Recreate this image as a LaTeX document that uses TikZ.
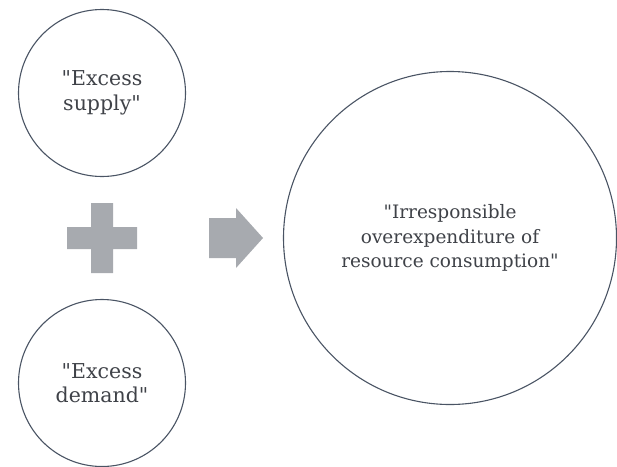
\documentclass[tikz,border=0pt]{standalone}
\usepackage{fontspec}
\setmainfont{DejaVu Serif}[Ligatures=TeXOff]
\usetikzlibrary{positioning}
\definecolor{rimgray}{HTML}{4A5464}
\definecolor{textgray}{HTML}{3F4248}
\definecolor{signgray}{HTML}{A7AAAF}
\tikzset{
  every node/.style={ % text in all circles
    text=textgray,
    font=\fontsize{20.5}{24.5}\selectfont,
    align=center},
  bubble/.style={ % the small circles
    circle,
    draw=rimgray,
    line width=1.1pt,
    minimum size=167pt,
    inner sep=0pt,
    execute at begin node={\rule{0pt}{23pt}}}, % pushes the text a bit lower
  bigbubble/.style={ % the large circle on the right
    bubble,
    font=\fontsize{18.5}{24.5}\selectfont,
    minimum size=333pt},
  sign/.style={ % plus and arrow
    fill=signgray,
    draw=none}}

\begin{document}
\begin{tikzpicture}[x=1pt,y=-1pt]
  \useasboundingbox (0,0) rectangle (617,466);
  \node[bubble] (supply) at (102,93) {"Excess\\supply"};
  \node[bubble] (demand) at (102,383) {"Excess\\demand"};
  \node[bigbubble] (result) at (450,238) {"Irresponsible\\overexpenditure of\\resource consumption"};
  % plus sign
  \coordinate (plus) at (102,238);
  \fill[sign] ([shift={(-11,-35)}]plus) -- ++(22,0) -- ++(0,24) -- ++(24,0) -- ++(0,22)
    -- ++(-24,0) -- ++(0,24) -- ++(-22,0) -- ++(0,-24) -- ++(-24,0) -- ++(0,-22)
    -- ++(24,0) -- cycle;
  % arrow
  \coordinate (tip) at (263,238);
  \fill[sign] (tip) -- ++(-27,-30) -- ++(0,10) -- ++(-27,0) -- ++(0,40) -- ++(27,0)
    -- ++(0,10) -- cycle;
\end{tikzpicture}
\end{document}
